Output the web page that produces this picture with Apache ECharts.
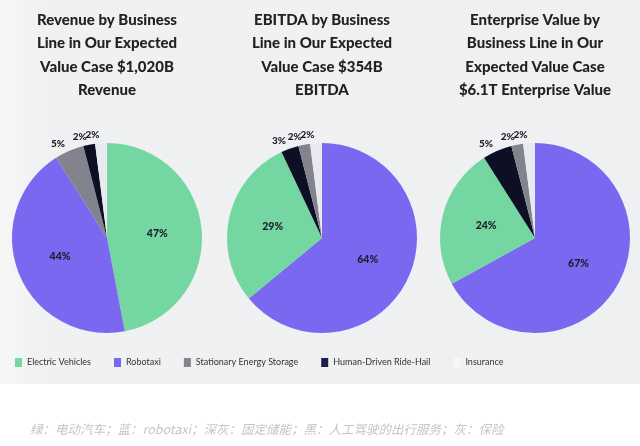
<!DOCTYPE html>
<html>
<head>
<meta charset="utf-8">
<script src="https://cdn.jsdelivr.net/npm/echarts@6/dist/echarts.min.js"></script>
<style>
  html, body { margin: 0; padding: 0; background: #fff; }
  #chart { width: 640px; height: 446px; }
</style>
</head>
<body>
<div id="chart"></div>
<script>
// business lines, in legend order
var lines = ['Electric Vehicles', 'Robotaxi', 'Stationary Energy Storage', 'Human-Driven Ride-Hail', 'Insurance'];
var lineColors = ['#74d7a2', '#7a68f0', '#82838c', '#0e0e24', '#e9eaef'];
var legendColors = ['#74d7a2', '#7a68f0', '#82838c', '#1e1e4c', '#f7f7f9'];

// each pie lists its slices clockwise from 12 o'clock
var revenueNames = ['Electric Vehicles', 'Robotaxi', 'Stationary Energy Storage', 'Human-Driven Ride-Hail', 'Insurance'];
var revenueValues = [47, 44, 5, 2, 2];
var ebitdaNames = ['Robotaxi', 'Electric Vehicles', 'Human-Driven Ride-Hail', 'Stationary Energy Storage', 'Insurance'];
var ebitdaValues = [64, 29, 3, 2, 2];
var evNames = ['Robotaxi', 'Electric Vehicles', 'Human-Driven Ride-Hail', 'Stationary Energy Storage', 'Insurance'];
var evValues = [67, 24, 5, 2, 2];

var titles = [
  'Revenue by Business\nLine in Our Expected\nValue Case $1,020B\nRevenue',
  'EBITDA by Business\nLine in Our Expected\nValue Case $354B\nEBITDA',
  'Enterprise Value by\nBusiness Line in Our\nExpected Value Case\n$6.1T Enterprise Value'
];
var caption = '绿：电动汽车；蓝：robotaxi；深灰：固定储能；黑：人工驾驶的出行服务；灰：保险';

var centersX = [107, 322, 535];
var font = 'Lato, "Noto Sans", sans-serif';

function sliceData(names, values) {
  return names.map(function (n, i) {
    var small = values[i] < 10;
    return {
      name: n,
      value: values[i],
      itemStyle: { color: lineColors[lines.indexOf(n)] },
      label: small
        ? { position: 'outside', fontSize: 10, distanceToLabelLine: 1 }
        : { position: 'inside', fontSize: 10.5 }
    };
  });
}

function pie(x, names, values) {
  return {
    type: 'pie',
    center: [x, 238],
    radius: 95,
    startAngle: 90,
    clockwise: true,
    avoidLabelOverlap: false,
    silent: true,
    label: { formatter: '{c}%', fontFamily: font, fontWeight: 900, color: '#1d1d2b' },
    labelLine: { show: false, length: 8, length2: 0 },
    labelLayout: { hideOverlap: false },
    data: sliceData(names, values)
  };
}

var chart = echarts.init(document.getElementById('chart'));
chart.setOption({
  animation: false,
  backgroundColor: '#ffffff',
  graphic: [{
    type: 'rect',
    z: -10,
    shape: { x: 0, y: 0, width: 640, height: 384 },
    style: {
      fill: new echarts.graphic.LinearGradient(0, 0, 1, 0, [
        { offset: 0, color: '#f7f7f8' },
        { offset: 0.06, color: '#f0f1f3' },
        { offset: 1, color: '#eff0f2' }
      ])
    }
  }],
  title: titles.map(function (t, i) {
    return {
      text: t,
      left: centersX[i],
      top: 8,
      padding: 0,
      textAlign: 'center',
      textStyle: { fontFamily: font, fontSize: 15, fontWeight: 900, color: '#222', lineHeight: 23.5 }
    };
  }).concat([{
    text: caption,
    left: 30,
    top: 423,
    padding: 0,
    textStyle: { fontFamily: '"Noto Sans CJK SC", sans-serif', fontSize: 12.5, fontWeight: 'normal', fontStyle: 'italic', color: '#c4c4c4' }
  }]),
  legend: {
    data: lines.map(function (n, i) {
      return { name: n, itemStyle: { color: legendColors[i] } };
    }),
    left: 15,
    top: 358,
    padding: 0,
    itemWidth: 7,
    itemHeight: 9,
    itemGap: 23,
    icon: 'rect',
    selectedMode: false,
    textStyle: { fontFamily: font, fontSize: 9, color: '#333' }
  },
  series: [
    pie(centersX[0], revenueNames, revenueValues),
    pie(centersX[1], ebitdaNames, ebitdaValues),
    pie(centersX[2], evNames, evValues)
  ]
});
</script>
</body>
</html>
